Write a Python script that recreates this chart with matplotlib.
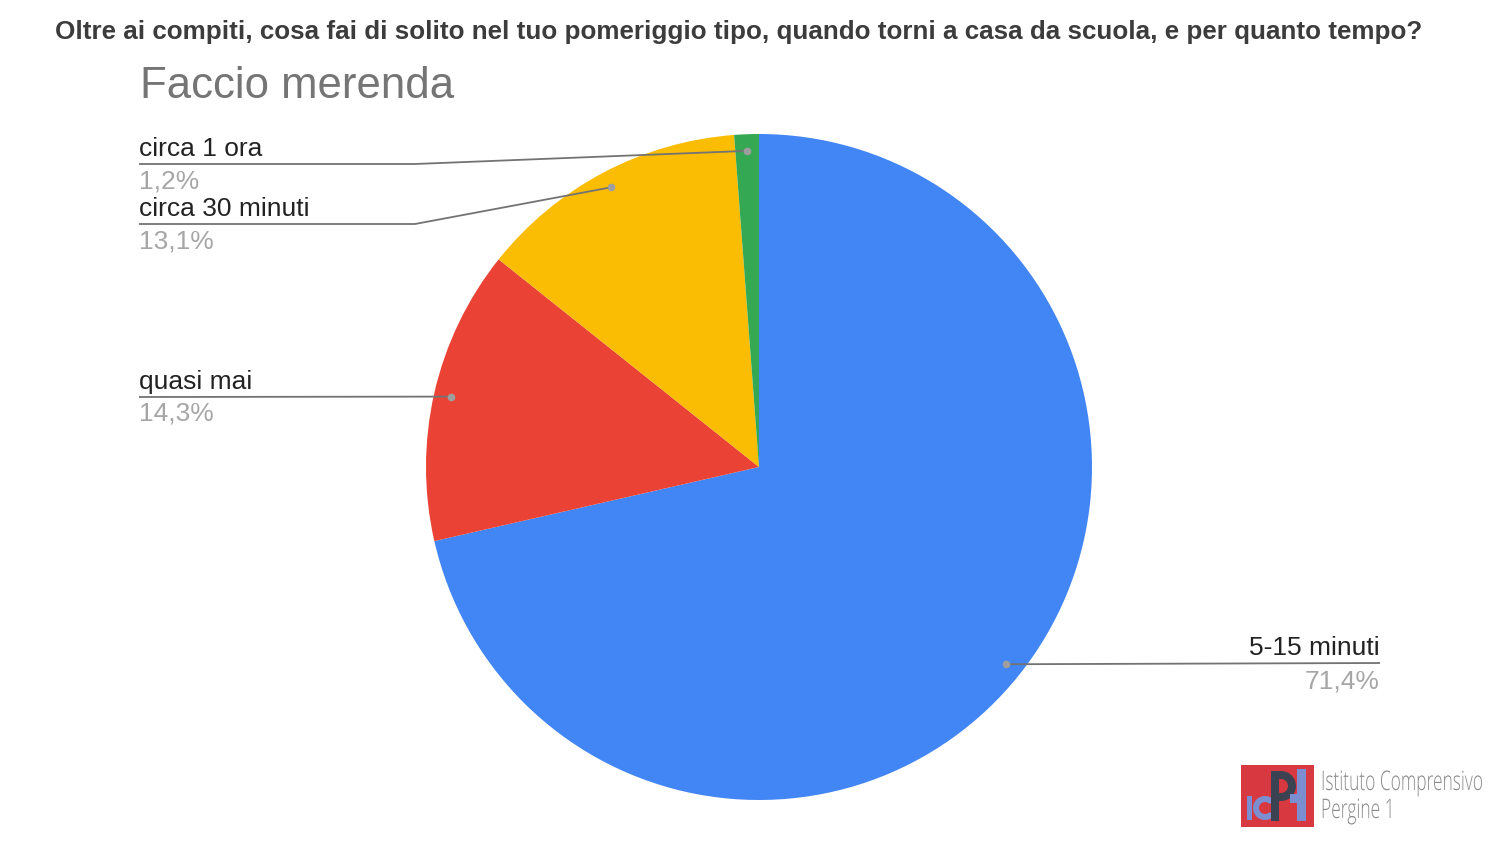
import numpy as np
import matplotlib
matplotlib.use("Agg")
import matplotlib.pyplot as plt
from matplotlib.patches import Rectangle, Wedge, PathPatch
from matplotlib.textpath import TextPath
from matplotlib.font_manager import FontProperties
from matplotlib.transforms import Affine2D

categories = ["5-15 minuti", "quasi mai", "circa 30 minuti", "circa 1 ora"]
counts = [60, 12, 11, 1]
pct_labels = ["71,4%", "14,3%", "13,1%", "1,2%"]
colors = ["#4285f4", "#ea4335", "#fbbc04", "#34a853"]

title = "Oltre ai compiti, cosa fai di solito nel tuo pomeriggio tipo, quando torni a casa da scuola, e per quanto tempo?"
subtitle = "Faccio merenda"
logo_lines = ["Istituto Comprensivo", "Pergine 1"]

W, H = 1500, 844
fig = plt.figure(figsize=(W / 100, H / 100), dpi=100)
fig.patch.set_facecolor("white")

CX, CY, R = 759, 467, 333
ax = fig.add_axes([(CX - R) / W, (H - CY - R) / H, 2 * R / W, 2 * R / H])
wedges, _ = ax.pie(counts, colors=colors, startangle=90, counterclock=False,
                   radius=1, wedgeprops=dict(linewidth=0))
ax.set_xlim(-1, 1)
ax.set_ylim(-1, 1)
ax.set_aspect("equal")
ax.axis("off")


def d(px, py):
    return (px - CX) / R, (CY - py) / R


FONT = ["Liberation Sans", "DejaVu Sans"]
LINE_C = "#737373"
DOT_C = "#9e9e9e"

# label layout: (text x, name y, underline y, pct y, align, elbow x)
layout = {
    "5-15 minuti": (1380, 648, 663, 681, "right", None),
    "quasi mai": (139, 382, 397, 414, "left", None),
    "circa 30 minuti": (139, 209, 224, 241, "left", 415),
    "circa 1 ora": (139, 149, 164, 182, "left", 415),
}

for w, cat, pl in zip(wedges, categories, pct_labels):
    mid = np.deg2rad((w.theta1 + w.theta2) / 2)
    dx, dy = 0.95 * np.cos(mid), 0.95 * np.sin(mid)
    tx, ny, uy, py, ha, elbow = layout[cat]
    if ha == "right":
        xs = [dx, d(tx, uy)[0]]
        ys = [dy, d(tx, uy)[1]]
    elif elbow is None:
        xs = [d(tx, uy)[0], dx]
        ys = [d(tx, uy)[1], dy]
    else:
        xs = [d(tx, uy)[0], d(elbow, uy)[0], dx]
        ys = [d(tx, uy)[1], d(elbow, uy)[1], dy]
    ax.plot(xs, ys, color=LINE_C, lw=1.3, clip_on=False, solid_capstyle="butt", zorder=3)
    ax.plot([dx], [dy], "o", color=DOT_C, ms=5.5, mec="none", clip_on=False, zorder=4)
    ax.text(*d(tx, ny), cat, ha=ha, va="center", fontsize=19, color="#222222",
            family=FONT, clip_on=False)
    ax.text(*d(tx, py), pl, ha=ha, va="center", fontsize=19, color="#a6a6a6",
            family=FONT, clip_on=False)

fig.text(739 / W, 1 - 32 / H, title, ha="center", va="center", fontsize=18.7,
         fontweight="bold", color="#3c3c3c", family=FONT)
fig.text(140 / W, 1 - 86 / H, subtitle, ha="left", va="center", fontsize=31.5,
         color="#757575", family=FONT)

# logo
lax = fig.add_axes([0, 0, 1, 1], zorder=5)
lax.set_xlim(0, W)
lax.set_ylim(H, 0)
lax.axis("off")
lax.patch.set_alpha(0)
BLUE_L = "#7b8fd0"
DARK_L = "#3b4252"
lax.add_patch(Rectangle((1241, 765), 73, 62, color="#d8383f", lw=0))
# "i"
lax.add_patch(Rectangle((1247, 796), 5, 24, color=BLUE_L, lw=0))
# "c"
lax.add_patch(Wedge((1265, 808), 12, 40, 320, width=6, color=BLUE_L, lw=0))
# P stem and bowl
lax.add_patch(Rectangle((1271, 771), 8, 50, color=DARK_L, lw=0))
lax.add_patch(Rectangle((1271, 771), 10, 8, color=DARK_L, lw=0))
lax.add_patch(Rectangle((1271, 793), 10, 8, color=DARK_L, lw=0))
lax.add_patch(Wedge((1281, 786), 15, -90, 90, width=8, color=DARK_L, lw=0))
# right bar with crossbar
lax.add_patch(Rectangle((1297, 769), 9, 52, color=BLUE_L, lw=0))
lax.add_patch(Rectangle((1290, 794), 8, 9, color=BLUE_L, lw=0))

fp = FontProperties(family=["Open Sans", "Roboto", "DejaVu Sans"], weight="light")
tp0 = TextPath((0, 0), logo_lines[0], size=1, prop=fp)
sx = 161 / tp0.get_extents().x1
for s, base in zip(logo_lines, [790, 818]):
    tp = TextPath((0, 0), s, size=1, prop=fp)
    path = Affine2D().scale(sx, -27).translate(1321, base).transform_path(tp)
    lax.add_patch(PathPatch(path, color="#8a8a8a", lw=0))

fig.savefig("out.png", dpi=100, facecolor="white")
